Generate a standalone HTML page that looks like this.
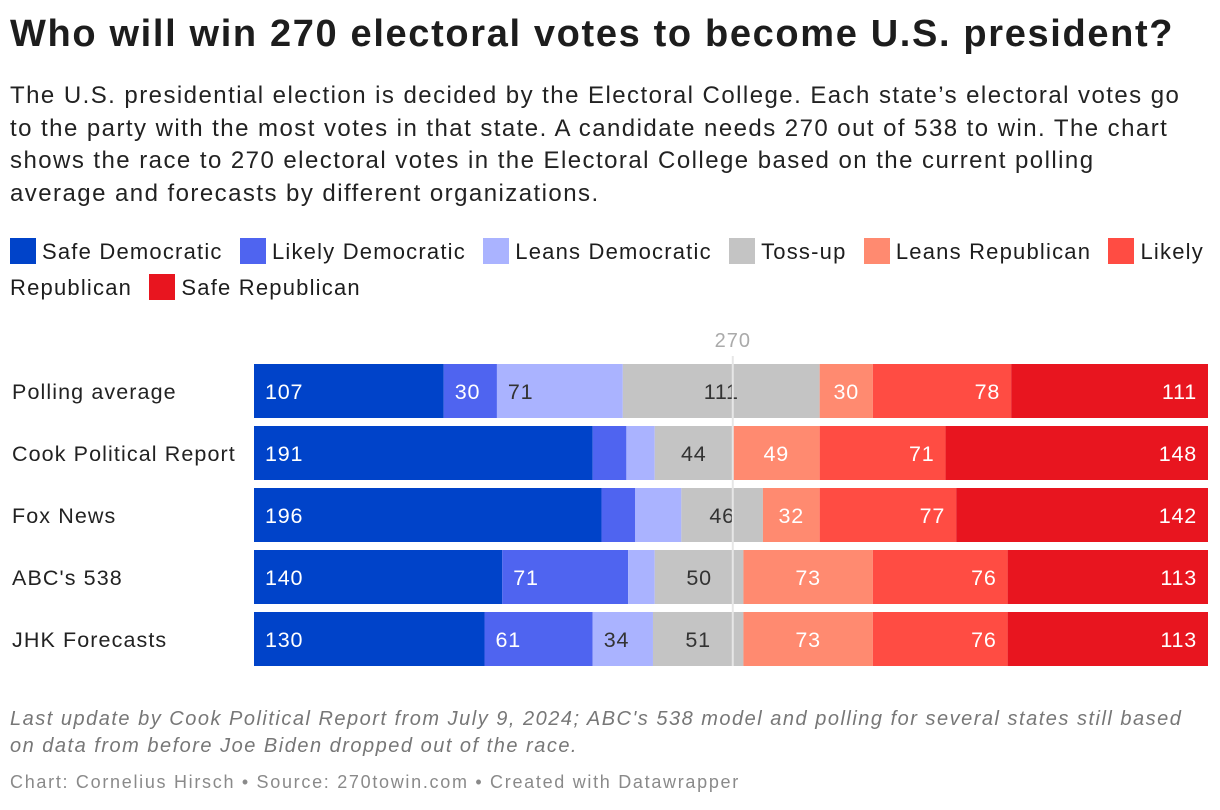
<!DOCTYPE html>
<html><head><meta charset="utf-8"><style>
body{margin:0;width:1220px;height:810px;background:#fff;font-family:"Liberation Sans",sans-serif;color:#1d1d1d;overflow:hidden;position:relative}
h1{position:absolute;left:10px;top:13px;margin:0;font-size:38px;font-weight:bold;letter-spacing:1.65px;white-space:nowrap}
.sub{position:absolute;left:10px;top:80px;width:1210px;font-size:24px;line-height:32.5px;color:#222;letter-spacing:1.45px;white-space:nowrap}
.legend{position:absolute;left:10px;top:234px;width:1210px;font-size:22px;line-height:36px;letter-spacing:1.2px}
.li{margin-right:10px}
.sw{display:inline-block;width:26px;height:26px;vertical-align:-5px;margin-right:6px}
.note{position:absolute;left:10px;top:706px;width:1200px;font-size:20px;line-height:27px;font-style:italic;color:#777;letter-spacing:1.5px;white-space:nowrap}
.cred{position:absolute;left:10px;top:772px;font-size:18px;color:#8a8a8a;letter-spacing:1.7px;white-space:nowrap}
</style></head><body>
<h1>Who will win 270 electoral votes to become U.S. president?</h1>
<div class="sub">The U.S. presidential election is decided by the Electoral College. Each state’s electoral votes go<br>to the party with the most votes in that state. A candidate needs 270 out of 538 to win. The chart<br>shows the race to 270 electoral votes in the Electoral College based on the current polling<br>average and forecasts by different organizations.</div>
<div class="legend" id="legend"></div>
<svg id="chart" width="1220" height="700" style="position:absolute;left:0;top:0"></svg>
<div class="note">Last update by Cook Political Report from July 9, 2024; ABC's 538 model and polling for several states still based<br>on data from before Joe Biden dropped out of the race.</div>
<div class="cred">Chart: Cornelius Hirsch • Source: 270towin.com • Created with Datawrapper</div>
<script>
const categories=["Safe Democratic","Likely Democratic","Leans Democratic","Toss-up","Leans Republican","Likely Republican","Safe Republican"];
const colors=["#0043c9","#4f64f0","#aab3ff","#c4c4c4","#ff8a70","#ff4c43","#e8151f"];
const textColors=["#fff","#fff","#333","#333","#fff","#fff","#fff"];
const rows=["Polling average","Cook Political Report","Fox News","ABC's 538","JHK Forecasts"];
const safeDem=[107,191,196,140,130];
const likelyDem=[30,19,19,71,61];
const leansDem=[71,16,26,15,34];
const tossUp=[111,44,46,50,51];
const leansRep=[30,49,32,73,73];
const likelyRep=[78,71,77,76,76];
const safeRep=[111,148,142,113,113];
const total=538, threshold=270;
const series=[safeDem,likelyDem,leansDem,tossUp,leansRep,likelyRep,safeRep];
const NS="http://www.w3.org/2000/svg";
const svg=document.getElementById('chart');
const x0=254,x1=1208;
const xs=v=>x0+v/total*(x1-x0);
const yTop=i=>364+i*62, bh=54;
const lg=document.getElementById('legend');
categories.forEach((c,i)=>{const s=document.createElement('span');s.className='li';


s.innerHTML='<span class="sw" style="background:'+colors[i]+'"></span>'+c;lg.appendChild(s);lg.appendChild(document.createTextNode(' '));});
function el(t,a){const e=document.createElementNS(NS,t);for(const k in a)e.setAttribute(k,a[k]);svg.appendChild(e);return e;}
rows.forEach((r,i)=>{
  const t=el('text',{x:12,y:yTop(i)+bh/2+8,'font-size':21.5,fill:'#222','letter-spacing':1.1});t.textContent=r;
  
  
  let cum=0;
  series.forEach((s,j)=>{
    const v=s[i];const a=xs(cum),b=xs(cum+v);
    const rc=el('rect',{x:a,y:yTop(i),width:b-a,height:bh,fill:colors[j]});
    
    
    if(v>=30){
      let tx,anc;
      if(j<=2){tx=a+11;anc='start';}else if(j<=4){tx=(a+b)/2;anc='middle';}else{tx=b-11;anc='end';}
      const lt=el('text',{x:tx,y:yTop(i)+bh/2+8,'font-size':21.5,fill:textColors[j],'text-anchor':anc,'letter-spacing':0.8});
      lt.textContent=v;
      
      
    }
    cum+=v;
  });
});
const lx=xs(threshold);
const ln=el('line',{x1:lx,x2:lx,y1:356,y2:666,stroke:'#e6e6e6','stroke-width':2});


const tl=el('text',{x:lx,y:347,'font-size':20,fill:'#aaa','text-anchor':'middle','letter-spacing':1});tl.textContent=threshold;


</script>
</body></html>
